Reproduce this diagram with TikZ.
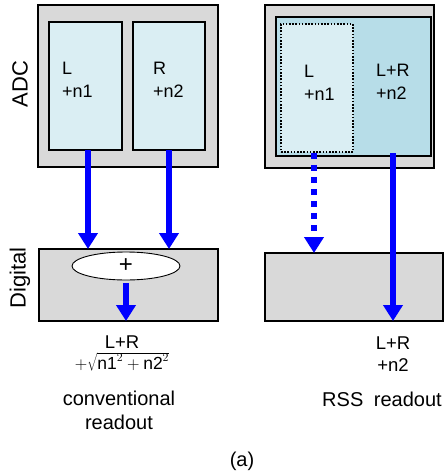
\documentclass[tikz,border=0pt]{standalone}
\usepackage{fontspec}
\setmainfont{Liberation Sans}
\usetikzlibrary{arrows.meta,shapes.geometric,calc}
\definecolor{boxgray}{HTML}{D9D9D9}
\definecolor{lightblue}{HTML}{DAEEF3}
\definecolor{midblue}{HTML}{B7DDE8}
\definecolor{arrowblue}{HTML}{0000FF}
\begin{document}
\begin{tikzpicture}[x=1pt,y=-1pt,
  box/.style={draw=black, line width=1.8pt, inner sep=0pt, outer sep=0pt},
  graybox/.style={box, fill=boxgray},
  cellbox/.style={box, fill=lightblue},
  celltxt/.style={inner sep=0pt, anchor=north west, align=left, font=\fontsize{18}{22.5}\selectfont},
  lbl/.style={inner sep=0pt, align=center, font=\fontsize{18.5}{22}\selectfont},
  caption/.style={inner sep=0pt, align=center, font=\fontsize{20}{24}\selectfont},
  side/.style={inner sep=0pt, rotate=90, font=\fontsize{22}{26}\selectfont},
  flow/.style={draw=arrowblue, line width=5.5pt, -{Triangle[width=19pt,length=16pt]}},
  dflow/.style={flow, dash pattern=on 6pt off 6pt},
]
\useasboundingbox (0,0) rectangle (444,474);
\fill[white] (0,0) rectangle (444,474);

% ---------- left: conventional ----------
\node[graybox, minimum width=180pt, minimum height=162pt] (adc1) at (128,86) {};
\node[cellbox, minimum width=73pt, minimum height=128pt] (cL) at (85.5,86) {};
\node[cellbox, minimum width=72pt, minimum height=128pt] (cR) at (169,86) {};
\node[celltxt] (tL) at (62,62) {L\\+n1};
\node[celltxt] (tR) at (153,62) {R\\+n2};

\node[graybox, minimum width=179pt, minimum height=72pt] (dig1) at (128.5,285) {};
\node[ellipse, draw=black, line width=0.9pt, fill=white, inner sep=0pt,
      minimum width=108pt, minimum height=28pt, font=\fontsize{24}{24}\selectfont] (sum) at (126,266) {+};

\draw[flow] ([xshift=2.5pt]cL.south) -- ([xshift=2.5pt]cL.south |- dig1.north);
\draw[flow] (cR.south) -- (cR.south |- dig1.north);
\draw[flow] ([yshift=-3pt]sum.south) -- (sum.south |- dig1.south);

\node[side] (adcT) at (20,84) {ADC};
\node[side] (digT) at (20,278) {Digital};

\node[lbl, anchor=base] (outL1) at (122,348) {L+R};
\node[inner sep=0pt, anchor=north, font=\fontsize{17.5}{17.5}\selectfont] (outL2) at (122,352)
  {$+\sqrt{\mathrm{n1}^2+\mathrm{n2}^2}$};
\node[caption, anchor=north] (capL) at (119,391) {conventional\\readout};

% ---------- right: RSS ----------
\node[graybox, minimum width=169pt, minimum height=163pt] (adc2) at (349.5,86.5) {};
\node[box, fill=midblue, minimum width=155pt, minimum height=139pt] (in2) at (353.5,86.5) {};
\node[draw=black, line width=1.6pt, dash pattern=on 1.6pt off 1.6pt, fill=lightblue,
      inner sep=0pt, minimum width=72pt, minimum height=128pt] (dL) at (317,88) {};
\node[celltxt] (tL2) at (304,65) {L\\+n1};
\node[celltxt] (tLR) at (376,64) {L+R\\+n2};

\node[graybox, minimum width=178pt, minimum height=68pt] (dig2) at (354,287) {};

\coordinate (s2) at ($(in2.south)+(39.5,-3)$);
\draw[dflow] ([xshift=-3pt]dL.south) -- ([xshift=-3pt]dL.south |- dig2.north);
\draw[flow] (s2) -- (s2 |- dig2.south);

\node[lbl, anchor=north] (outR) at (393,337) {L+R\\+n2};
\node[caption, anchor=base] (capR) at (382,406) {RSS\hspace{0.25em} readout};

\node[caption] (subA) at (242,461) {(a)};
\end{tikzpicture}
\end{document}
